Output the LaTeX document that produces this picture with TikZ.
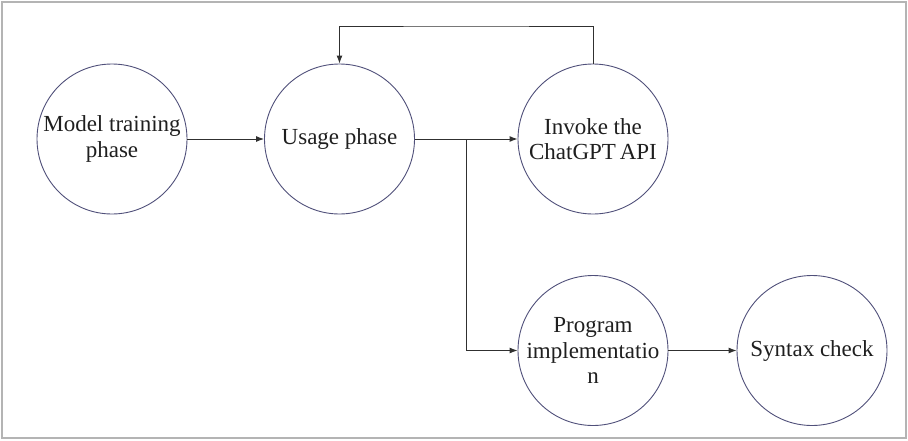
\documentclass[tikz,border=0pt]{standalone}
\usepackage{fontspec}
\setmainfont{Liberation Serif}
\usetikzlibrary{arrows.meta}
\definecolor{ringcol}{HTML}{50507A}
\definecolor{linkcol}{HTML}{303030}
\definecolor{framecol}{HTML}{B4B4B4}
\begin{document}
\begin{tikzpicture}[x=1pt,y=-1pt,
  phase/.style={circle, draw=ringcol, line width=0.9pt, minimum size=150pt,
    inner sep=0pt, align=center, text=black!88,
    font=\fontsize{23}{25.5}\selectfont},
  link/.style={draw=linkcol, line width=1pt, -{Latex[length=8pt,width=6pt]}}]
\useasboundingbox (0,0) rectangle (908,440);
% outer frame
\draw[framecol, line width=2pt] (2,2) rectangle (906,438);

% phases
\node[phase] (train)  at (112,139)   {Model training\\phase};
\node[phase] (usage)  at (339.5,139) {Usage phase};
\node[phase] (invoke) at (593,139)   {Invoke the\\ChatGPT\,API};
\node[phase] (impl)   at (593,350.5) {Program\\implementatio\\n};
\node[phase] (syntax) at (812,350.5) {Syntax check};

% routing points
\coordinate (loop) at (466,26);
\coordinate (fork) at (466,139);

% connectors
\draw[link] (train) -- (usage);
\draw[link] (usage) -- (invoke);
\draw[link] (invoke.north) |- (loop) -| (usage.north);
\draw[link] (fork) |- (impl.west);
\draw[link] (impl) -- (syntax);
\end{tikzpicture}
\end{document}
